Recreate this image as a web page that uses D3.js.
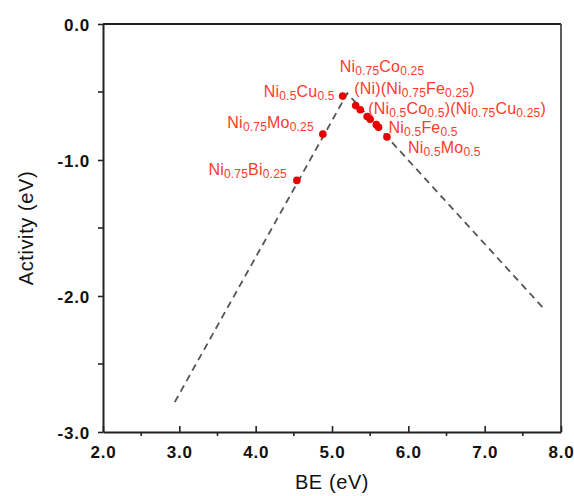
<!DOCTYPE html>
<html>
<head>
<meta charset="utf-8">
<script src="https://cdn.jsdelivr.net/npm/d3@7"></script>
<style>
    body { margin: 0; background: #fff; }
    svg { display: block; font-family: Arial, 'Liberation Sans', sans-serif; }
</style>
</head>
<body>
<div id="chart"></div>
<script>
// alloy compositions and their (BE, activity) values
const compositions = ['Ni_{0.5}Cu_{0.5}', 'Ni_{0.75}Co_{0.25}', 'Ni', 'Ni_{0.75}Fe_{0.25}', 'Ni_{0.5}Co_{0.5}',
    'Ni_{0.75}Cu_{0.25}', 'Ni_{0.5}Fe_{0.5}', 'Ni_{0.5}Mo_{0.5}', 'Ni_{0.75}Mo_{0.25}', 'Ni_{0.75}Bi_{0.25}'];
const bindingEnergy = [5.14, 5.31, 5.37, 5.46, 5.50, 5.58, 5.61, 5.72, 4.88, 4.54];
const activity = [-0.53, -0.60, -0.63, -0.68, -0.70, -0.74, -0.76, -0.83, -0.81, -1.15];

// volcano fit lines
const volcanoBE = [2.94, 5.20, 7.77];
const volcanoActivity = [-2.78, -0.51, -2.09];

const xTicks = [2, 3, 4, 5, 6, 7, 8];
const xMinorTicks = [2.5, 3.5, 4.5, 5.5, 6.5, 7.5];
const yTicks = [0, -1, -2, -3];
const yMinorTicks = [-0.5, -1.5, -2.5];

const width = 574, height = 496;
const margin = {top: 24, right: 13, bottom: 64, left: 103};
const plotW = width - margin.left - margin.right;
const plotH = height - margin.top - margin.bottom;

let svg = d3.select('#chart').append('svg')
    .attr('width', width)
    .attr('height', height);

let g = svg.append('g')
    .attr('transform', 'translate(' + margin.left + ',' + margin.top + ')');

let x = d3.scaleLinear().domain([2, 8]).range([0, plotW]);
let y = d3.scaleLinear().domain([-3, 0]).range([plotH, 0]);

let fmt = function(d) {return d3.format('.1f')(d).replace('\u2212', '-')};

// frame (top and right)
g.append('line').attr('x1', 0).attr('x2', plotW).attr('y1', 0).attr('y2', 0)
    .attr('stroke', '#222').attr('stroke-width', 2);
g.append('line').attr('x1', plotW).attr('x2', plotW).attr('y1', 0).attr('y2', plotH)
    .attr('stroke', '#333').attr('stroke-width', 1.6);

// x axis: major ticks inward, minor ticks outward
let xAxis = g.append('g').attr('transform', 'translate(0,' + plotH + ')')
    .call(d3.axisBottom(x).tickValues(xTicks).tickSizeInner(-6).tickSizeOuter(0)
        .tickFormat(fmt).tickPadding(14));
xAxis.append('g').selectAll('line')
    .data(xMinorTicks)
    .enter()
    .append('line')
    .attr('x1', function(d) {return x(d)})
    .attr('x2', function(d) {return x(d)})
    .attr('y1', 0).attr('y2', 4)
    .attr('stroke', '#222').attr('stroke-width', 1.6);

let yAxis = g.append('g')
    .call(d3.axisLeft(y).tickValues(yTicks).tickSizeInner(5).tickSizeOuter(0)
        .tickFormat(fmt).tickPadding(8));
yAxis.append('g').selectAll('line')
    .data(yMinorTicks)
    .enter()
    .append('line')
    .attr('x1', -5).attr('x2', 0)
    .attr('y1', function(d) {return y(d)})
    .attr('y2', function(d) {return y(d)})
    .attr('stroke', '#222').attr('stroke-width', 1.6);

[xAxis, yAxis].forEach(function(a) {
    a.select('.domain').attr('stroke', '#222').attr('stroke-width', 2);
    a.selectAll('.tick line').attr('stroke', '#222').attr('stroke-width', 1.6);
    a.selectAll('.tick text')
        .attr('fill', '#111')
        .style('font-size', '17px')
        .style('font-weight', 'bold')
        .style('letter-spacing', '0.8px');
});
yAxis.selectAll('.tick text').attr('dy', '0.4em');

// axis titles
svg.append('text')
    .attr('x', margin.left + plotW / 2)
    .attr('y', 489)
    .attr('text-anchor', 'middle')
    .style('font-size', '20px')
    .style('letter-spacing', '0.6px')
    .attr('fill', '#111')
    .text('BE (eV)');

svg.append('text')
    .attr('transform', 'translate(33,' + (margin.top + plotH / 2) + ') rotate(-90)')
    .attr('text-anchor', 'middle')
    .style('font-size', '20px')
    .style('letter-spacing', '0.6px')
    .attr('fill', '#111')
    .text('Activity (eV)');

// volcano lines
let volcano = volcanoBE.map(function(d, i) {return [d, volcanoActivity[i]]});
g.append('path')
    .datum(volcano)
    .attr('d', d3.line().x(function(d) {return x(d[0])}).y(function(d) {return y(d[1])}))
    .attr('fill', 'none')
    .attr('stroke', '#555')
    .attr('stroke-width', 1.8)
    .attr('stroke-dasharray', '7,5');

// points
let points = compositions.map(function(c, i) {return {name: c, be: bindingEnergy[i], act: activity[i]}});
g.selectAll('.dot')
    .data(points)
    .enter()
    .append('circle')
    .attr('class', 'dot')
    .attr('cx', function(d) {return x(d.be)})
    .attr('cy', function(d) {return y(d.act)})
    .attr('r', 3.8)
    .attr('fill', '#e80000');

// labels: point indices, then pixel offset from the first point
let labels = [
    {idx: [0], dx: -8, dy: 1, anchor: 'end'},
    {idx: [1], dx: -16, dy: -34, anchor: 'start'},
    {idx: [2, 3], dx: -6, dy: -16, anchor: 'start'},
    {idx: [4, 5], dx: -2, dy: -5, anchor: 'start'},
    {idx: [6], dx: 10, dy: 6, anchor: 'start'},
    {idx: [7], dx: 21, dy: 16, anchor: 'start'},
    {idx: [8], dx: -9, dy: -6, anchor: 'end'},
    {idx: [9], dx: -10, dy: -5, anchor: 'end'}
];

function addSegments(textSel, str) {
    let parts = str.split(/_\{([^}]*)\}/);
    let lowered = false;
    parts.forEach(function(p, i) {
        let sub = i % 2 === 1;
        if (p === '') return;
        let dy = 0;
        if (sub && !lowered) { dy = 3; lowered = true; }
        if (!sub && lowered) { dy = -3; lowered = false; }
        textSel.append('tspan')
            .attr('dy', dy)
            .style('font-size', sub ? '12px' : '16px')
            .text(p);
    });
}

labels.forEach(function(l) {
    let p = points[l.idx[0]];
    let t = g.append('text')
        .attr('x', x(p.be) + l.dx)
        .attr('y', y(p.act) + l.dy)
        .attr('text-anchor', l.anchor)
        .attr('fill', '#ff3a2a')
        .style('letter-spacing', '0.2px');
    if (l.idx.length === 1) {
        addSegments(t, points[l.idx[0]].name);
    } else {
        let str = l.idx.map(function(i) {return '(' + points[i].name + ')'}).join('');
        addSegments(t, str);
    }
});
</script>
</body>
</html>
